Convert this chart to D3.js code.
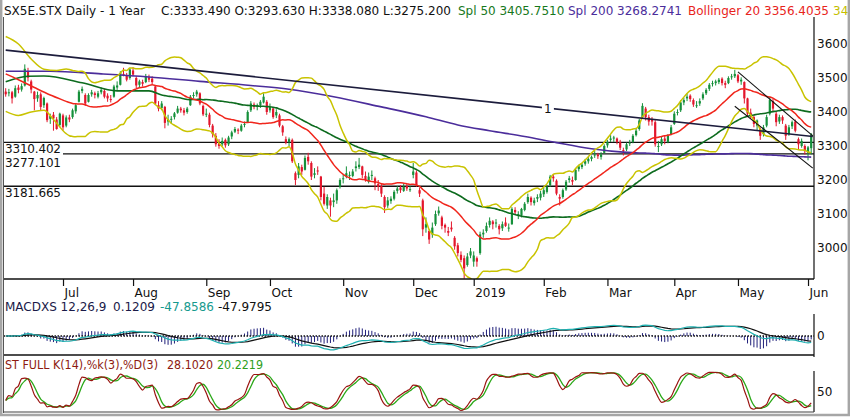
<!DOCTYPE html>
<html lang="en">
<head>
<meta charset="UTF-8">
<title>SX5E.STX Daily - 1 Year</title>
<script src="https://cdn.jsdelivr.net/npm/d3@7"></script>
<style>
    body { margin: 0; background: #fff; }
    svg { display: block; }
    text { font-family: "DejaVu Sans", Verdana, sans-serif; font-size: 12px; }
</style>
</head>
<body>
<script>
// daily candles, one array per month: [open, high, low, close]
const jun18 = [
    [3460,3470,3445,3452],[3455,3468,3446,3458],[3458,3462,3425,3440],[3445,3478,3442,3470],
    [3472,3480,3455,3465],[3466,3484,3460,3476],[3478,3540,3475,3527],[3520,3530,3490,3501],
    [3490,3495,3455,3466],[3460,3462,3405,3438],[3440,3460,3430,3450],[3452,3458,3405,3415],
    [3420,3445,3412,3441],[3425,3428,3370,3376],[3380,3395,3365,3388],[3392,3400,3345,3381],
    [3378,3385,3348,3350],[3362,3398,3355,3395]
];
const jul18 = [
    [3390,3395,3345,3355],[3360,3390,3355,3384],[3384,3392,3370,3378],[3385,3410,3380,3405],
    [3402,3425,3395,3420],[3430,3465,3428,3460],[3462,3475,3455,3468],[3450,3455,3418,3425],
    [3430,3455,3428,3450],[3452,3465,3445,3458],[3455,3460,3440,3450],[3445,3462,3440,3455],
    [3458,3472,3452,3465],[3462,3468,3440,3445],[3448,3455,3430,3440],[3438,3450,3428,3437],
    [3445,3480,3442,3475],[3472,3490,3465,3478],[3480,3520,3478,3515],[3512,3530,3505,3511],
    [3508,3515,3490,3495],[3500,3530,3495,3525]
];
const aug18 = [
    [3522,3532,3505,3510],[3500,3505,3470,3478],[3480,3495,3472,3490],[3488,3495,3475,3483],
    [3488,3512,3485,3505],[3502,3510,3488,3495],[3498,3505,3482,3488],[3475,3478,3420,3425],
    [3420,3432,3402,3410],[3412,3432,3405,3425],[3415,3418,3352,3368],[3372,3392,3360,3378],
    [3380,3388,3365,3380],[3385,3400,3378,3396],[3398,3418,3395,3410],[3410,3415,3398,3405],
    [3405,3412,3390,3398],[3400,3415,3395,3410],[3420,3450,3418,3445],[3448,3458,3440,3450],
    [3452,3465,3445,3460],[3455,3458,3420,3425],[3418,3422,3388,3393]
];
const sep18 = [
    [3395,3410,3385,3395],[3392,3398,3355,3362],[3360,3365,3325,3335],[3330,3338,3298,3305],
    [3308,3320,3292,3300],[3305,3325,3300,3315],[3318,3322,3295,3302],[3305,3330,3300,3325],
    [3328,3345,3320,3340],[3342,3356,3338,3350],[3348,3352,3335,3345],[3345,3365,3342,3360],
    [3362,3372,3355,3365],[3370,3405,3368,3400],[3405,3432,3400,3425],[3422,3428,3408,3415],
    [3415,3425,3405,3420],[3420,3435,3412,3430],[3428,3455,3425,3445],[3430,3435,3392,3400]
];
const oct18 = [
    [3405,3425,3398,3415],[3410,3412,3380,3385],[3390,3408,3382,3400],[3390,3395,3355,3360],
    [3358,3362,3330,3340],[3320,3328,3305,3310],[3312,3325,3300,3320],[3318,3322,3250,3255],
    [3220,3225,3185,3200],[3215,3250,3205,3240],[3238,3245,3215,3225],[3230,3272,3228,3265],
    [3268,3280,3245,3255],[3250,3255,3200,3210],[3215,3235,3205,3220],[3228,3240,3215,3225],
    [3210,3212,3140,3150],[3160,3180,3125,3130],[3125,3158,3115,3150],[3140,3148,3092,3125],
    [3135,3160,3120,3140],[3140,3175,3130,3170],[3180,3205,3175,3200]
];
const nov18 = [
    [3205,3215,3190,3205],[3210,3240,3205,3220],[3215,3225,3200,3215],[3212,3232,3208,3225],
    [3235,3255,3225,3240],[3238,3265,3232,3245],[3240,3242,3205,3215],[3212,3225,3195,3200],
    [3195,3222,3190,3210],[3212,3228,3200,3215],[3205,3210,3170,3190],[3188,3200,3168,3180],
    [3182,3188,3150,3160],[3150,3155,3103,3120],[3125,3150,3118,3140],[3138,3152,3130,3145],
    [3145,3170,3140,3165],[3168,3182,3160,3175],[3178,3185,3162,3170],[3168,3190,3165,3180],
    [3182,3188,3168,3175],[3170,3182,3165,3173]
];
const dec18 = [
    [3215,3250,3205,3225],[3222,3228,3180,3185],[3170,3178,3150,3160],[3140,3145,3035,3055],
    [3060,3090,3045,3070],[3050,3055,3012,3025],[3040,3075,3030,3060],[3070,3110,3065,3100],
    [3102,3122,3095,3110],[3090,3095,3055,3065],[3068,3072,3045,3060],[3050,3062,3035,3045],
    [3060,3078,3048,3055],[3030,3035,2995,3005],[3008,3015,2975,2985],[2980,2990,2958,2965],
    [2970,2978,2910,2940],[2950,2985,2945,2975],[2978,3000,2970,2990]
];
const jan19 = [
    [2960,2990,2945,2978],[2970,2975,2945,2960],[2985,3048,2980,3040],[3040,3055,3030,3045],
    [3050,3075,3045,3065],[3068,3090,3060,3080],[3078,3082,3055,3070],[3072,3085,3060,3075],
    [3065,3070,3040,3055],[3058,3078,3050,3070],[3075,3090,3062,3065],[3060,3072,3048,3060],
    [3070,3120,3068,3115],[3112,3120,3098,3105],[3100,3108,3085,3100],[3095,3118,3090,3115],
    [3112,3135,3108,3130],[3135,3160,3130,3150],[3148,3152,3125,3135],[3132,3148,3125,3140],
    [3145,3158,3135,3150],[3148,3168,3140,3160]
];
const feb19 = [
    [3158,3178,3150,3170],[3165,3185,3160,3180],[3185,3215,3180,3210],[3210,3218,3195,3205],
    [3198,3202,3155,3160],[3150,3158,3125,3145],[3150,3175,3145,3170],[3172,3200,3168,3195],
    [3200,3212,3192,3205],[3200,3210,3185,3195],[3200,3235,3198,3230],[3232,3245,3225,3240],
    [3238,3250,3232,3245],[3248,3262,3242,3255],[3255,3268,3248,3262],[3262,3272,3255,3268],
    [3272,3285,3265,3275],[3275,3280,3262,3270],[3268,3282,3260,3275],[3280,3305,3278,3300]
];
const mar19 = [
    [3302,3318,3295,3312],[3318,3332,3312,3322],[3322,3330,3312,3325],[3322,3325,3305,3312],
    [3312,3318,3288,3295],[3288,3295,3272,3285],[3290,3310,3285,3305],[3308,3318,3300,3310],
    [3312,3335,3308,3330],[3332,3352,3328,3345],[3350,3380,3345,3375],[3385,3426,3380,3418],
    [3410,3415,3375,3385],[3385,3392,3360,3372],[3378,3385,3360,3372],[3370,3376,3298,3305],
    [3300,3315,3282,3300],[3305,3328,3300,3320],[3322,3330,3305,3315],[3312,3335,3308,3330],
    [3335,3362,3332,3355]
];
const apr19 = [
    [3365,3402,3362,3395],[3398,3408,3390,3400],[3405,3435,3400,3428],[3428,3442,3420,3435],
    [3440,3455,3432,3445],[3448,3452,3430,3438],[3435,3440,3415,3422],[3420,3432,3412,3420],
    [3425,3440,3418,3432],[3440,3458,3435,3452],[3455,3470,3450,3465],[3468,3485,3462,3480],
    [3482,3492,3475,3485],[3485,3495,3478,3490],[3488,3500,3482,3495],[3498,3502,3478,3485],
    [3485,3492,3470,3480],[3485,3505,3482,3500],[3502,3512,3495,3505],[3505,3524,3500,3512]
];
const may19 = [
    [3508,3512,3485,3490],[3490,3502,3480,3495],[3488,3490,3425,3440],[3440,3442,3385,3395],
    [3398,3410,3380,3390],[3385,3390,3355,3365],[3360,3378,3345,3375],[3350,3355,3318,3330],
    [3335,3362,3328,3355],[3360,3392,3355,3385],[3395,3445,3390,3435],[3432,3440,3400,3410],
    [3395,3400,3358,3370],[3372,3392,3365,3385],[3385,3390,3365,3375],[3360,3365,3318,3330],
    [3335,3362,3330,3355],[3358,3375,3350,3370],[3372,3378,3340,3345],[3320,3325,3290,3305],
    [3300,3322,3295,3315],[3300,3305,3275,3285]
];
const jun19 = [
    [3280,3300,3258,3296],[3293.63,3338.08,3275.2,3333.49]
];

// x axis: first trading day of each month
const monthLabels = ["Jul", "Aug", "Sep", "Oct", "Nov", "Dec", "2019", "Feb", "Mar", "Apr", "May", "Jun"];
const monthStart = [18, 40, 63, 83, 106, 128, 147, 169, 189, 210, 230, 252];
const priceTicks = [3000, 3100, 3200, 3300, 3400, 3500, 3600];

// horizontal levels and drawn trend lines [dayIndex, price]
const levels = [3310.402, 3277.101, 3181.665];
const trendLine1 = [[0, 3582], [253.5, 3328]];
const channelTop = [[230, 3518], [253.5, 3330]];
const channelBottom = [[229, 3417], [253.5, 3235]];

const sma200Early = [[0,3520],[14,3520],[30,3512],[45,3503],[61,3490],[77,3478],[89,3467],[103,3445],
    [118,3415],[132,3386],[142,3362],[152,3345],[163,3328],[173,3310],[184,3292],[194,3282],[199,3280]];
const sma50Early = [[0,3489],[7,3505],[12,3506],[24,3486],[35,3462],[45,3462],[49,3450]];
const bbMidEarly = [[0,3512],[4,3495],[9,3472],[14,3450],[19,3431]];
const bbUpEarly = [[0,3622],[4,3600],[8,3556],[12,3526],[16,3522],[19,3527]];
const bbLowEarly = [[0,3402],[4,3390],[8,3400],[12,3405],[15,3378],[19,3336]];

const width = 850, height = 417;
const left = 3.5, right = 814;

const candles = [].concat(jun18, jul18, aug18, sep18, oct18, nov18, dec18, jan19, feb19, mar19, apr19, may19, jun19)
    .map((r, i) => ({ i: i, o: r[0], h: r[1], l: r[2], c: r[3] }));
const closes = candles.map(d => d.c);

//indicator helpers
function sma(n) {
    return closes.map((c, i) => i < n - 1 ? null : d3.mean(closes.slice(i - n + 1, i + 1)));
}
function bollinger(n, k) {
    return closes.map((c, i) => {
        if (i < n - 1) return null;
        const w = closes.slice(i - n + 1, i + 1);
        const m = d3.mean(w);
        const s = Math.sqrt(d3.mean(w, v => (v - m) * (v - m)));
        return { mid: m, up: m + k * s, low: m - k * s };
    });
}
function ema(arr, n) {
    const k = 2 / (n + 1);
    let prev = arr[0];
    return arr.map((v, i) => prev = (i === 0 ? v : v * k + prev * (1 - k)));
}
function joined(early, computed, start) {
    return early.filter(p => p[0] < start).map(p => ({ i: p[0], v: p[1] }))
        .concat(computed.map((v, i) => ({ i: i, v: v })).filter(p => p.i >= start));
}

const bb = bollinger(20, 2);
const sma50 = joined(sma50Early, sma(50), 49);
const sma200 = joined(sma200Early, sma(200), 199);
const bbMid = joined(bbMidEarly, bb.map(b => b && b.mid), 19);
const bbUp = joined(bbUpEarly, bb.map(b => b && b.up), 19);
const bbLow = joined(bbLowEarly, bb.map(b => b && b.low), 19);

const ema12 = ema(closes, 12), ema26 = ema(closes, 26);
const macd = closes.map((c, i) => ema12[i] - ema26[i]);
const signal = ema(macd, 9);
const hist = macd.map((m, i) => m - signal[i]);

const rawK = candles.map((d, i) => {
    const w = candles.slice(Math.max(0, i - 13), i + 1);
    const hh = d3.max(w, e => e.h), ll = d3.min(w, e => e.l);
    return 100 * (d.c - ll) / (hh - ll);
});
const stochK = rawK.map((v, i) => d3.mean(rawK.slice(Math.max(0, i - 2), i + 1)));
const stochD = stochK.map((v, i) => d3.mean(stochK.slice(Math.max(0, i - 2), i + 1)));

//scales
const x = d3.scaleLinear().domain([0, 253]).range([5.7, 811.2]);
const y = d3.scaleLinear().domain([3000, 3600]).range([248, 44]);
const yMacd = d3.scaleLinear().domain([-100, 100]).range([359, 313]);
const histFactor = 2.5;
const yStoch = d3.scaleLinear().domain([0, 100]).range([412, 371]);

const svg = d3.select("body").append("svg")
    .attr("width", width).attr("height", height);

const defs = svg.append("defs");
function clip(id, y0, y1) {
    defs.append("clipPath").attr("id", id).append("rect")
        .attr("x", left).attr("y", y0).attr("width", right - left).attr("height", y1 - y0);
}
clip("clipPrice", 17, 279);
clip("clipMacd", 300, 355);
clip("clipStoch", 360, 412);

//price panel
const gPrice = svg.append("g").attr("clip-path", "url(#clipPrice)");

gPrice.selectAll(".level")
    .data(levels)
    .enter()
    .append("line")
    .attr("x1", left).attr("x2", right)
    .attr("y1", d => y(d)).attr("y2", d => y(d))
    .attr("stroke", "#111").attr("stroke-width", 1.3);

// candles
const gCandles = gPrice.append("g");
gCandles.selectAll("line")
    .data(candles)
    .enter()
    .append("line")
    .attr("x1", d => x(d.i)).attr("x2", d => x(d.i))
    .attr("y1", d => y(d.h)).attr("y2", d => y(d.l))
    .attr("stroke", d => d.c >= d.o ? "#15903a" : "#e3162c")
    .attr("stroke-width", 1);
gCandles.selectAll("rect")
    .data(candles)
    .enter()
    .append("rect")
    .attr("x", d => x(d.i) - 1.1)
    .attr("width", 2.2)
    .attr("y", d => y(Math.max(d.o, d.c)))
    .attr("height", d => Math.max(1, Math.abs(y(d.o) - y(d.c))))
    .attr("fill", d => d.c >= d.o ? "#15903a" : "#e3162c");

const priceLine = d3.line()
    .x(d => x(d.i)).y(d => y(d.v))
    .curve(d3.curveMonotoneX);

const overlays = [
    { data: sma200, color: "#4b2d9b", w: 1.6 },
    { data: sma50, color: "#0d6b1e", w: 1.6 },
    { data: bbUp, color: "#c9c300", w: 1.5 },
    { data: bbLow, color: "#c9c300", w: 1.5 },
    { data: bbMid, color: "#f0261c", w: 1.5 }
];
overlays.forEach(o => {
    gPrice.append("path")
        .datum(o.data)
        .attr("d", priceLine)
        .attr("fill", "none")
        .attr("stroke", o.color)
        .attr("stroke-width", o.w);
});

const straight = d3.line().x(d => x(d[0])).y(d => y(d[1]));
gPrice.append("path").datum(trendLine1).attr("d", straight)
    .attr("stroke", "#1c1c3c").attr("stroke-width", 1.6).attr("fill", "none");
[channelTop, channelBottom].forEach(t => {
    gPrice.append("path").datum(t).attr("d", straight)
        .attr("stroke", "#111").attr("stroke-width", 1.1).attr("fill", "none");
});

// "1" tag on the long trend line
const tagI = 170.3;
const tagV = trendLine1[0][1] + (trendLine1[1][1] - trendLine1[0][1]) * tagI / trendLine1[1][0];
gPrice.append("rect")
    .attr("x", x(tagI) - 6).attr("y", y(tagV) - 6).attr("width", 12).attr("height", 12)
    .attr("fill", "#fff");
gPrice.append("text")
    .attr("x", x(tagI)).attr("y", y(tagV) + 4.5)
    .attr("text-anchor", "middle").attr("fill", "#111")
    .text("1");

// level labels with white boxes, pushed down when they would touch the one above
let prevBottom = -Infinity;
levels.forEach(v => {
    let base = y(v) + 11;
    if (base - 10 < prevBottom + 1) base = prevBottom + 11;
    prevBottom = base + 2.7;
    const t = svg.append("text")
        .attr("x", 5).attr("y", base)
        .attr("fill", "#111")
        .attr("font-size", 10.5)
        .attr("textLength", 56)
        .text(d3.format(".3f")(v));
    svg.insert("rect", () => t.node())
        .attr("x", 4).attr("y", y(v) + 1.6)
        .attr("width", 59).attr("height", base + 1.5 - (y(v) + 1.6))
        .attr("fill", "#fff");
});

// axes
const yAxis = svg.append("g")
    .attr("transform", `translate(${right},0)`)
    .call(d3.axisRight(y).tickValues(priceTicks).tickSize(0).tickPadding(3).tickFormat(d3.format("d")));
yAxis.select(".domain").remove();

const xAxis = svg.append("g")
    .attr("transform", "translate(0,279)")
    .call(d3.axisBottom(x).tickValues(monthStart).tickSize(7).tickPadding(2)
        .tickFormat((d, k) => monthLabels[k]));
xAxis.select(".domain").remove();
xAxis.selectAll(".tick line").attr("stroke", "#111").attr("stroke-width", 1.2);
xAxis.selectAll(".tick text").attr("text-anchor", "start").attr("x", 1);

svg.append("line").attr("x1", left).attr("x2", right).attr("y1", 279).attr("y2", 279)
    .attr("stroke", "#111").attr("stroke-width", 1.3);
svg.append("line").attr("x1", right).attr("x2", right).attr("y1", 17).attr("y2", 279)
    .attr("stroke", "#111").attr("stroke-width", 1.2);

//macd panel
const gMacd = svg.append("g").attr("clip-path", "url(#clipMacd)");
gMacd.selectAll("line")
    .data(hist)
    .enter()
    .append("line")
    .attr("x1", (d, i) => x(i)).attr("x2", (d, i) => x(i))
    .attr("y1", yMacd(0)).attr("y2", d => yMacd(d * histFactor))
    .attr("stroke", "#1f1f7a").attr("stroke-width", 1);
gMacd.append("line")
    .attr("x1", left).attr("x2", right).attr("y1", yMacd(0)).attr("y2", yMacd(0))
    .attr("stroke", "#111").attr("stroke-width", 1.4).attr("stroke-dasharray", "1.5,1.5");

const macdLine = d3.line().x((d, i) => x(i)).y(d => yMacd(d));
gMacd.append("path").datum(signal).attr("d", macdLine)
    .attr("fill", "none").attr("stroke", "#111").attr("stroke-width", 1.2);
gMacd.append("path").datum(macd).attr("d", macdLine)
    .attr("fill", "none").attr("stroke", "#1fb0b0").attr("stroke-width", 1.2);

svg.append("line").attr("x1", left).attr("x2", right).attr("y1", 355).attr("y2", 355)
    .attr("stroke", "#111").attr("stroke-width", 1.3);
svg.append("line").attr("x1", right).attr("x2", right).attr("y1", 314).attr("y2", 357)
    .attr("stroke", "#111").attr("stroke-width", 1.2);
const mAxis = svg.append("g").attr("transform", `translate(${right},0)`)
    .call(d3.axisRight(yMacd).tickValues([0]).tickSize(0).tickPadding(3));
mAxis.select(".domain").remove();

//stochastic panel
const gStoch = svg.append("g").attr("clip-path", "url(#clipStoch)");
const stochLine = d3.line().x((d, i) => x(i)).y(d => yStoch(d)).curve(d3.curveMonotoneX);
gStoch.append("path").datum(stochD).attr("d", stochLine)
    .attr("fill", "none").attr("stroke", "#2aa818").attr("stroke-width", 1.3);
gStoch.append("path").datum(stochK).attr("d", stochLine)
    .attr("fill", "none").attr("stroke", "#9a1410").attr("stroke-width", 1.2);

svg.append("line").attr("x1", right).attr("x2", right).attr("y1", 371).attr("y2", 412)
    .attr("stroke", "#111").attr("stroke-width", 1.2);
const sAxis = svg.append("g").attr("transform", `translate(${right},0)`)
    .call(d3.axisRight(yStoch).tickValues([50]).tickSize(0).tickPadding(3));
sAxis.select(".domain").remove();

svg.selectAll(".tick text")
    .attr("font-family", "\"DejaVu Sans\", Verdana, sans-serif")
    .attr("font-size", 12)
    .attr("fill", "#111");

// headers
function label(px, py, txt, color, len) {
    const t = svg.append("text").attr("x", px).attr("y", py).attr("fill", color).text(txt);
    if (len) t.attr("textLength", len).attr("lengthAdjust", "spacingAndGlyphs");
    return t;
}
label(4, 15, "SX5E.STX Daily -  1 Year", "#111");
label(161, 15, "C:3333.490 O:3293.630 H:3338.080 L:3275.200", "#111");
label(458, 15, "Spl 50 3405.7510", "#16781c");
label(568, 15, "Spl 200 3268.2741", "#4b2d9b");
label(688, 15, "Bollinger 20 3356.4035", "#e8241c");
label(833, 15, "34", "#c4be00");

label(5, 311, "MACDXS 12,26,9", "#1a1a48");
label(113, 311, "0.1209", "#1a1a48");
label(160, 311, "-47.8586", "#179a8e");
label(218, 311, "-47.9795", "#111");

label(5, 369, "ST FULL K(14),%k(3),%D(3)", "#8e1a10", 153);
label(167, 369, "28.1020", "#8e1a10", 46);
label(217, 369, "20.2219", "#2f9e1c", 46);

// frame
svg.append("line").attr("x1", 3.5).attr("x2", 3.5).attr("y1", 17).attr("y2", 413)
    .attr("stroke", "#555").attr("stroke-width", 1);
svg.append("line").attr("x1", left).attr("x2", right).attr("y1", 412).attr("y2", 412)
    .attr("stroke", "#444").attr("stroke-width", 1.2);
svg.append("path")
    .attr("d", `M1.2,0V${height - 2}H${width - 1.2}V0`)
    .attr("fill", "none").attr("stroke", "#a6a6a6").attr("stroke-width", 2.4);
</script>
</body>
</html>
